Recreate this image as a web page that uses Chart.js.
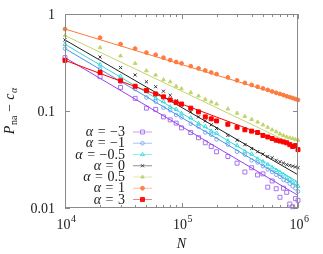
<!DOCTYPE html>
<html><head><meta charset="utf-8">
<script src="https://cdn.jsdelivr.net/npm/chart.js@4"></script>
<style>html,body{margin:0;padding:0;background:#fff;overflow:hidden}canvas{display:block}</style>
</head><body>
<canvas id="c" width="323" height="254"></canvas>
<script>
// ---- data ----
const nValues = [10000,20000,30000,40000,50000,60000,70000,80000,90000,100000,
  120000,140000,160000,180000,200000,250000,300000,350000,400000,450000,500000,
  550000,600000,650000,700000,750000,800000,850000,900000,950000,1000000];
const alphaValues = ['−3','−1','−0.5','0','0.5','1','3'];
const pAm3  = [.355,.226,.175,.135,.107,.104,.087,.081,.075,.067,.060,.053,.047,.043,.038,.034,.029,.0235,.026,.0219,.0225,.0164,.019,.0158,.0129,.016,.0145,.011,.0103,.0125,.012];
const pAm1  = [.44,.272,.20,.168,.138,.125,.108,.102,.091,.086,.074,.069,.060,.057,.051,.045,.038,.0355,.031,.0295,.027,.025,.0235,.022,.021,.0195,.019,.0178,.0168,.016,.0148];
const pAm05 = [.487,.30,.228,.18,.158,.135,.125,.11,.104,.094,.085,.074,.069,.062,.059,.049,.044,.038,.036,.032,.030,.028,.026,.0245,.0232,.022,.0205,.0198,.0185,.018,.0168];
const pA0   = [.54,.36,.28,.235,.20,.178,.16,.145,.128,.115,.098,.087,.079,.072,.066,.056,.050,.045,.041,.038,.036,.034,.033,.031,.030,.029,.028,.0275,.027,.0265,.026];
const pA05  = [.60,.45,.37,.31,.26,.235,.21,.20,.18,.17,.155,.143,.132,.124,.118,.105,.095,.088,.082,.077,.072,.068,.064,.061,.058,.056,.054,.053,.052,.051,.050];
const pA1   = [.70,.57,.49,.44,.40,.38,.355,.335,.32,.31,.29,.275,.262,.25,.24,.222,.207,.195,.186,.178,.171,.165,.159,.154,.150,.146,.142,.139,.136,.133,.130];
const pA3   = [.333,.25,.205,.18,.163,.15,.14,.13,.122,.118,.107,.098,.087,.083,.079,.073,.068,.064,.062,.060,.056,.054,.052,.050,.049,.048,.047,.045,.043,.044,.040];
// power-law fit lines (endpoints)
const fitN    = [10000, 1000000];
const fitAm3  = [0.355, 0.0135];
const fitAm1  = [0.44, 0.0167];
const fitAm05 = [0.487, 0.0185];
const fitA0   = [0.54, 0.022];
const fitA05  = [0.60, 0.043];
const fitA1   = [0.70, 0.13];
const fitA3   = [0.333, 0.042];
// axis ticks
const xTickValues = [1e4, 1e5, 1e6];
const xTickExps = ['4','5','6'];
const yTickValues = [0.01, 0.1, 1];
const yTickLabels = ['0.01','0.1','1'];

// ---- styles ----
const seriesData = [pAm3, pAm1, pAm05, pA0, pA05, pA1, pA3];
const seriesFits = [fitAm3, fitAm1, fitAm05, fitA0, fitA05, fitA1, fitA3];
const styles = [
  {line:'#9a40f0', mark:'#a872f0', shape:'rect',     r:2.8, open:true},
  {line:'#4b90ea', mark:'#78a8f2', shape:'circle',   r:1.8, open:true},
  {line:'#30d8dc', mark:'#40dcdc', shape:'triangle', r:2.3, open:true},
  {line:'#222222', mark:'#333333', shape:'crossRot', r:2.2, open:true},
  {line:'#c4d46c', mark:'#c2d46a', shape:'triangle', r:2.1, open:false},
  {line:'#ff7a3c', mark:'#ff7b3e', shape:'circle',   r:1.9, open:false},
  {line:'#ff0000', mark:'#ff0000', shape:'rect',     r:2.8, open:false}
];

const font = (s, it) => (it ? 'italic ' : '') + s + 'px "Liberation Serif","DejaVu Serif",serif';

const datasets = [];
seriesData.forEach((arr, i) => {
  const st = styles[i];
  datasets.push({
    label: 'α = ' + alphaValues[i],
    data: arr.map((v, k) => ({x: nValues[k], y: v})),
    showLine: false,
    pointStyle: st.shape,
    pointRadius: st.r,
    pointBorderWidth: 1,
    pointBorderColor: st.mark,
    pointBackgroundColor: st.open ? 'rgba(0,0,0,0)' : st.mark,
    clip: false,
    order: 20 - 2 * i
  });
  datasets.push({
    label: 'fit ' + alphaValues[i],
    data: seriesFits[i].map((v, k) => ({x: fitN[k], y: v})),
    showLine: true,
    pointRadius: 0,
    borderWidth: 1,
    borderColor: st.line,
    order: 19 - 2 * i
  });
});

function drawMarker(ctx, st, x, y) {
  ctx.beginPath();
  const r = st.r;
  if (st.shape === 'rect') {
    const s = Math.SQRT1_2 * r;
    ctx.rect(x - s, y - s, 2 * s, 2 * s);
  } else if (st.shape === 'circle') {
    ctx.arc(x, y, r, 0, Math.PI * 2);
  } else if (st.shape === 'triangle') {
    let a = 0;
    ctx.moveTo(x + Math.sin(a) * r, y - Math.cos(a) * r);
    a += 2 * Math.PI / 3; ctx.lineTo(x + Math.sin(a) * r, y - Math.cos(a) * r);
    a += 2 * Math.PI / 3; ctx.lineTo(x + Math.sin(a) * r, y - Math.cos(a) * r);
    ctx.closePath();
  } else {
    const d = r * Math.SQRT1_2;
    ctx.moveTo(x - d, y - d); ctx.lineTo(x + d, y + d);
    ctx.moveTo(x - d, y + d); ctx.lineTo(x + d, y - d);
  }
  ctx.lineWidth = 1;
  ctx.strokeStyle = st.mark;
  if (!st.open && st.shape !== 'crossRot') { ctx.fillStyle = st.mark; ctx.fill(); }
  ctx.stroke();
}

const decor = {
  id: 'decor',
  afterDraw(chart) {
    const {ctx, chartArea: a, scales: {x, y}} = chart;
    ctx.save();
    // frame
    ctx.strokeStyle = '#8a8a8a'; ctx.lineWidth = 1;
    ctx.strokeRect(a.left + 0.5, a.top + 0.5, a.right - a.left - 1, a.bottom - a.top - 1);
    // ticks
    ctx.beginPath();
    xTickValues.forEach(v => {
      const px = Math.round(x.getPixelForValue(v)) + 0.5;
      ctx.moveTo(px, a.bottom); ctx.lineTo(px, a.bottom - 5);
      ctx.moveTo(px, a.top); ctx.lineTo(px, a.top + 5);
    });
    for (let d = 1e4; d < 1e6; d *= 10) {
      for (let m = 2; m <= 9; m++) {
        const px = Math.round(x.getPixelForValue(m * d)) + 0.5;
        ctx.moveTo(px, a.bottom); ctx.lineTo(px, a.bottom - 3);
        ctx.moveTo(px, a.top); ctx.lineTo(px, a.top + 3);
      }
    }
    yTickValues.forEach(v => {
      const py = Math.round(y.getPixelForValue(v)) + 0.5;
      ctx.moveTo(a.left, py); ctx.lineTo(a.left + 5, py);
      ctx.moveTo(a.right, py); ctx.lineTo(a.right - 5, py);
    });
    ctx.stroke();

    ctx.fillStyle = '#1a1a1a';
    // x tick labels 10^n
    ctx.textBaseline = 'alphabetic'; ctx.textAlign = 'left';
    xTickValues.forEach((v, i) => {
      const px = x.getPixelForValue(v);
      ctx.font = font(14); const w1 = ctx.measureText('10').width;
      ctx.font = font(10); const w2 = ctx.measureText(xTickExps[i]).width;
      const sx = px - (w1 + w2) / 2 + 1;
      ctx.font = font(14); ctx.fillText('10', sx, a.bottom + 21);
      ctx.font = font(10); ctx.fillText(xTickExps[i], sx + w1 + 0.5, a.bottom + 14);
    });
    // y tick labels
    ctx.font = font(14); ctx.textAlign = 'right'; ctx.textBaseline = 'middle';
    yTickValues.forEach((v, i) => {
      ctx.fillText(yTickLabels[i], a.left - 10, y.getPixelForValue(v) + 1);
    });
    // x title
    ctx.textAlign = 'center'; ctx.textBaseline = 'alphabetic';
    ctx.font = font(14, true);
    ctx.fillText('N', (a.left + a.right) / 2, a.bottom + 40);

    // y title: P_na − c_α (rotated)
    ctx.save();
    ctx.translate(13.5, (a.top + a.bottom) / 2);
    ctx.rotate(-Math.PI / 2);
    ctx.textAlign = 'left';
    const parts = [
      {t:'P', f:font(14, true), dy:0, gap:0},
      {t:'na', f:font(10), dy:3, gap:0.5},
      {t:'−', f:font(14), dy:0, gap:4},
      {t:'c', f:font(14, true), dy:0, gap:4},
      {t:'α', f:font(10, true), dy:3, gap:0.5}
    ];
    let tot = 0;
    parts.forEach(p => { ctx.font = p.f; p.w = ctx.measureText(p.t).width; tot += p.gap + p.w; });
    let cx = -tot / 2;
    parts.forEach(p => { cx += p.gap; ctx.font = p.f; ctx.fillText(p.t, cx, p.dy); cx += p.w; });
    ctx.restore();

    // legend
    const textRight = a.left + 60;
    const y0 = 131.5, step = 11.25;
    styles.forEach((st, i) => {
      const ly = y0 + i * step;
      ctx.textBaseline = 'middle';
      ctx.textAlign = 'left';
      ctx.font = font(14); const wr = ctx.measureText(alphaValues[i]).width;
      const we = ctx.measureText('=').width;
      ctx.font = font(14, true); const wa = ctx.measureText('α').width;
      const g = 4.5;
      let sx = textRight - (wa + g + we + g + wr);
      ctx.fillStyle = '#1a1a1a';
      ctx.font = font(14, true); ctx.fillText('α', sx, ly + 1); sx += wa + g;
      ctx.font = font(14); ctx.fillText('=', sx, ly + 1); sx += we + g;
      ctx.fillText(alphaValues[i], sx, ly + 1);
      // sample
      ctx.save();
      ctx.globalAlpha = 0.5;
      ctx.strokeStyle = st.line; ctx.lineWidth = 1;
      ctx.beginPath(); ctx.moveTo(textRight + 8, ly + 0.5); ctx.lineTo(textRight + 27, ly + 0.5); ctx.stroke();
      ctx.globalAlpha = 0.9;
      drawMarker(ctx, st, textRight + 17.5, ly + 0.5);
      ctx.restore();
    });
    ctx.restore();
  }
};

new Chart(document.getElementById('c'), {
  type: 'scatter',
  data: {datasets},
  options: {
    responsive: false,
    animation: false,
    devicePixelRatio: 1,
    layout: {padding: {left: 65, right: 25, top: 14, bottom: 46}},
    scales: {
      x: {type: 'logarithmic', min: 1e4, max: 1e6, display: false},
      y: {type: 'logarithmic', min: 0.01, max: 1, display: false}
    },
    plugins: {legend: {display: false}, tooltip: {enabled: false}}
  },
  plugins: [decor]
});
</script>
</body></html>
